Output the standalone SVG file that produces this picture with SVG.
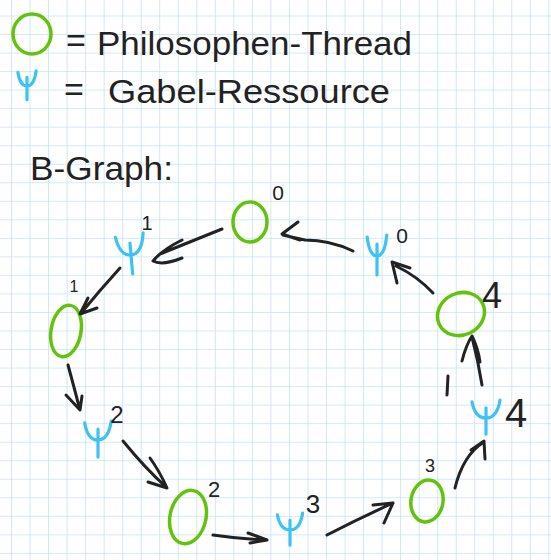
<svg xmlns="http://www.w3.org/2000/svg" width="551" height="560" viewBox="0 0 551 560">
<defs>
<pattern id="grid" x="11" y="15.5" width="18.53" height="18.53" patternUnits="userSpaceOnUse">
<path d="M0,0 V18.53 M0,0 H18.53" fill="none" stroke="#c4e2f5" stroke-width="1.6"/>
</pattern>
<path id="fork" d="M-14,-19 Q-11,0 0,0 Q11,0 14,-21 M0,-12 L0,19" vector-effect="non-scaling-stroke"/>
<style>
.ink{fill:none;stroke:#222;stroke-width:3;stroke-linecap:round;stroke-linejoin:round}
.phil{fill:none;stroke:#62c30c;stroke-width:3.5}
.fork{fill:none;stroke:#3cc2f3;stroke-width:3.2;stroke-linecap:round}
.hand{font-family:"Liberation Sans",Arial,sans-serif;fill:#222}
.lbl{font-family:"Liberation Sans",Arial,sans-serif;fill:#222;text-anchor:middle}
</style>
</defs>
<rect width="551" height="560" fill="#ffffff"/>
<rect width="551" height="560" fill="url(#grid)"/>

<g id="legend">
<ellipse class="phil" cx="32" cy="34" rx="19" ry="20"/>
<use href="#fork" class="fork" transform="translate(27,86) scale(0.65,0.72)"/>
<text class="hand" x="66" y="52" font-size="34">=</text>
<text class="hand" x="97" y="55" font-size="34" textLength="315" lengthAdjust="spacingAndGlyphs">Philosophen-Thread</text>
<text class="hand" x="64" y="101" font-size="34">=</text>
<text class="hand" x="108" y="103" font-size="34" textLength="282" lengthAdjust="spacingAndGlyphs">Gabel-Ressource</text>
<text class="hand" x="30" y="180" font-size="34" textLength="143" lengthAdjust="spacingAndGlyphs">B-Graph:</text>
</g>

<g id="P0">
<ellipse class="phil" cx="250" cy="222" rx="17" ry="20"/>
<text class="lbl" x="278" y="200" font-size="21">0</text>
</g>
<g id="P1">
<ellipse class="phil" cx="66" cy="331" rx="15" ry="26" transform="rotate(10 66 331)"/>
<text class="lbl" x="74" y="292" font-size="16">1</text>
</g>
<g id="P2">
<ellipse class="phil" cx="188" cy="517" rx="18" ry="27" transform="rotate(12 188 517)"/>
<text class="lbl" x="214" y="497" font-size="22">2</text>
</g>
<g id="P3">
<ellipse class="phil" cx="427" cy="501" rx="16" ry="21" transform="rotate(10 427 501)"/>
<text class="lbl" x="430" y="472" font-size="18">3</text>
</g>
<g id="P4">
<ellipse class="phil" cx="461" cy="314" rx="24" ry="21" transform="rotate(-25 461 314)"/>
<text class="lbl" x="492" y="308" font-size="36">4</text>
</g>

<g id="F0">
<use href="#fork" class="fork" transform="translate(377,256) scale(0.7,1)"/>
<text class="lbl" x="402" y="243" font-size="21">0</text>
</g>
<g id="F1">
<use href="#fork" class="fork" transform="translate(131,255) rotate(-5)"/>
<text class="lbl" x="147" y="230" font-size="20">1</text>
</g>
<g id="F2">
<use href="#fork" class="fork" transform="translate(98,440) scale(0.95,0.9)"/>
<text class="lbl" x="117" y="423" font-size="24">2</text>
</g>
<g id="F3">
<use href="#fork" class="fork" transform="translate(290,530) scale(0.9,0.8)"/>
<text class="lbl" x="313" y="513" font-size="26">3</text>
</g>
<g id="F4">
<use href="#fork" class="fork" transform="translate(486,418) scale(1,0.85)"/>
<text class="lbl" x="516" y="427" font-size="40">4</text>
</g>

<g id="connectors">
<path class="ink" d="M222,229 Q195,240 160,254 M182,240 Q162,250 153,261 Q162,266 182,258"/>
<path class="ink" d="M120,268 Q100,290 82,312 M88,298 L80,314 L97,308"/>
<path class="ink" d="M68,365 Q74,387 80,410 M66,395 L80,410 L82,396"/>
<path class="ink" d="M123,441 Q145,468 166,487 M150,458 Q160,472 167,488 L148,482"/>
<path class="ink" d="M213,535 Q240,539 267,540 M248,533 L267,540 L250,543"/>
<path class="ink" d="M327,535 Q360,518 393,503 M373,505 L393,503 L384,523"/>
<path class="ink" d="M455,488 Q463,455 484,442 M471,450 L484,441 L485,459"/>
<path class="ink" d="M482,385 Q478,360 472,337 M462,361 Q466,345 472,336 Q478,348 480,362"/>
<path class="ink" d="M433,293 Q417,276 396,266 M397,283 L392,262 L410,268"/>
<path class="ink" d="M353,251 Q330,240 305,240 Q295,238 283,235 M298,222 L282,234 L300,240"/>
<path class="ink" d="M448,376 L447,395" stroke-width="2"/>
</g>
</svg>
